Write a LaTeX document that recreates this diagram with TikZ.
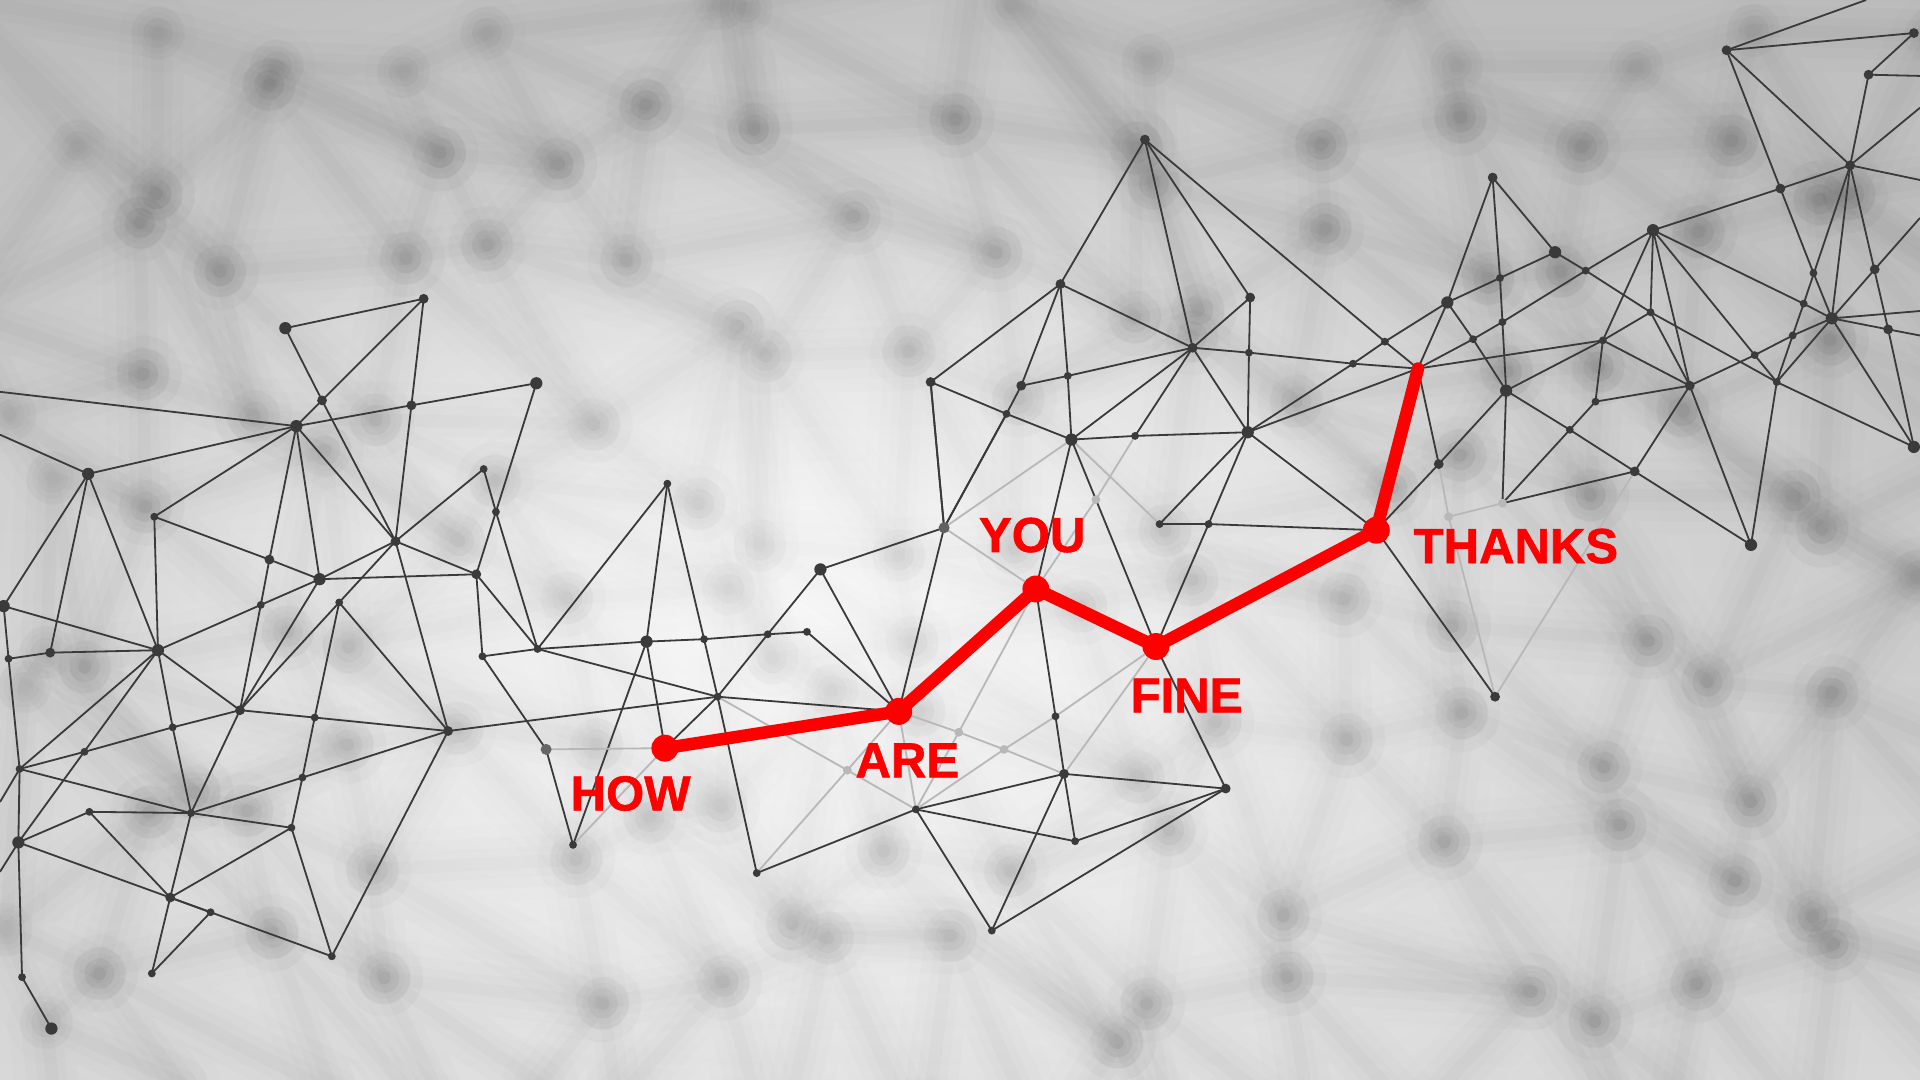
\documentclass[tikz,border=0pt]{standalone}
\usepackage{fontspec}
\setmainfont{Liberation Sans}
\newfontfamily\wordfont{Liberation Sans Bold}[FakeBold=1.2]
\usetikzlibrary{fadings}

\definecolor{redline}{RGB}{255,0,0}
\definecolor{meshgray}{RGB}{58,58,58}
\definecolor{bgedge}{RGB}{216,216,216}

\tikzfading[name=glow, inner color=transparent!0, outer color=transparent!100]
\tikzfading[name=topdark, top color=transparent!88, bottom color=transparent!100]

\begin{document}
\begin{tikzpicture}[x=0.01cm, y=-0.01cm,
    mesh/.style={draw=meshgray, line width=0.42pt},
    faint/.style={draw=black!28, line width=0.42pt},
    blur/.style={draw=black, line cap=round, line join=round, line width=#1},
    word/.style={text=redline, font=\fontsize{11.4}{12}\selectfont\wordfont, inner sep=0pt},
    route/.style={draw=redline, line width=2.9pt, line cap=round, line join=round}]

  \useasboundingbox (0,0) rectangle (1568,882);
  \clip (0,0) rectangle (1568,882);

  % background
  \fill[bgedge] (0,0) rectangle (1568,882);
  \fill[white, path fading=glow] (680,480) ellipse (880 and 580);
  \fill[black, path fading=topdark] (0,0) rectangle (1568,882);

  % blurred mesh behind
  \pgfmathsetseed{23}
  \foreach \i in {0,...,15}{
    \foreach \j in {0,...,9}{
      \pgfmathsetmacro\bx{\i*108-40+rnd*110}
      \pgfmathsetmacro\by{\j*100-40+rnd*100}
      \coordinate (b_\i_\j) at (\bx,\by);
    }
  }
  \foreach \i in {0,...,14}{
    \foreach \j in {0,...,8}{
      \pgfmathtruncatemacro\ii{\i+1}
      \pgfmathtruncatemacro\jj{\j+1}
      \foreach \w/\o in {18pt/.009, 12pt/.011, 7pt/.013, 3pt/.016}
        \draw[blur=\w, opacity=\o] (b_\i_\j) -- (b_\ii_\j) (b_\i_\j) -- (b_\i_\jj) (b_\i_\j) -- (b_\ii_\jj);
      \foreach \r in {22,17,12,8}
        \fill[black, opacity=.014] (b_\i_\j) circle (\r);
    }
  }
  \fill[white, opacity=.55, path fading=glow] (660,500) ellipse (640 and 400);

  % mesh points
  \foreach \n/\x/\y in {e_1/0/320, e_2/0/355, e_3/0/655, e_4/0/712,
      l_1/233/268, l_2/346/244, l_3/263/327, l_4/242/348, l_5/336/331, l_6/438/313,
      l_8/72/387, l_9/395/383, l_10/405/418, l_11/126/422, l_12/323/442, l_13/389/469,
      l_14/261/473, l_15/220/457, l_16/213/494, l_17/3/495, l_18/129/531, l_19/41/533,
      l_20/7/538, l_21/196/580, l_22/257/586, l_23/366/597, l_24/439/530, l_25/394/536,
      l_26/141/594, l_27/69/614, l_28/16/628, l_29/247/635, l_30/156/664, l_31/73/663,
      l_32/238/676, l_33/15/688, l_34/139/733, l_35/172/745, l_36/271/781, l_37/124/795,
      l_38/18/798, l_39/42/840, l_40/277/492,
      m_1/545/395, m_2/528/524, m_3/575/522, m_4/627/518, m_5/659/516, m_6/586/569,
      m_7/446/612, m_8/468/690, m_9/670/465, m_10/771/431, m_11/783/598, m_12/820/612,
      m_13/692/629, m_14/748/661, m_15/869/632, m_16/878/687, m_17/618/713, m_18/810/760,
      m_19/1001/644, m_20/895/408, m_21/862/585,
      u_1/935/114, u_2/866/232, u_3/1021/243, u_4/760/312, u_5/834/315, u_6/872/307,
      u_7/822/338, u_8/974/284, u_9/1020/288, u_10/1019/353, u_11/875/359, u_12/927/356,
      u_13/947/428, u_14/987/428, u_15/1105/297, u_16/1131/279,
      r_1/1219/145, r_2/1270/206, r_3/1182/247, r_4/1225/227, r_5/1227/263, r_6/1203/277,
      r_7/1230/319, r_8/1175/379, r_9/1183/422, r_10/1227/411, r_11/1295/221, r_12/1350/188,
      r_13/1309/278, r_14/1348/255, r_15/1303/328, r_16/1282/351, r_17/1380/315, r_18/1335/385,
      r_19/1430/445, r_20/1451/312, r_21/1221/569, r_22/1410/41, r_23/1526/61, r_24/1563/27,
      r_25/1454/154, r_26/1511/135, r_27/1496/260, r_28/1473/248, r_29/1531/220, r_30/1433/290,
      r_31/1563/365, r_34/1464/274, r_35/1481/223, r_36/1542/269,
      e_6/1524/0, e_7/1568/62, e_8/1568/88, e_9/1568/147, e_10/1568/178, e_11/1568/254, e_12/1568/274,
      p_0/543/611, p_1/734/581, p_2/846/481, p_3/944/528, p_4/1124/433, p_5/1158/301}
    \coordinate (\n) at (\x,\y);

  % connectors
  \foreach \a/\b in {e_1/l_4, e_2/l_8, e_3/l_28, e_4/l_33,
      l_1/l_2, l_1/l_3, l_2/l_3, l_3/l_4, l_2/l_5, l_5/l_12, l_4/l_5, l_5/l_6, l_8/l_4,
      l_8/l_17, l_8/l_19, l_8/l_18, l_4/l_11, l_4/l_15, l_15/l_16, l_4/l_14, l_4/l_12,
      l_3/l_12, l_6/l_10, l_10/l_13, l_9/l_10, l_9/l_12, l_11/l_15, l_15/l_14, l_11/l_18,
      l_14/l_12, l_14/l_13, l_12/l_13, l_12/l_40, l_40/l_21, l_40/l_22, l_40/l_23,
      l_14/l_16, l_16/l_18, l_16/l_21, l_14/l_21, l_17/l_18, l_17/l_20, l_20/l_19,
      l_19/l_18, l_20/l_28, l_18/l_21, l_18/l_26, l_18/l_28, l_18/l_33, l_28/l_27,
      l_27/l_26, l_26/l_21, l_21/l_22, l_22/l_23, l_21/l_30, l_26/l_30, l_28/l_30,
      l_31/l_30, l_30/l_32, l_30/l_29, l_29/l_23, l_22/l_29, l_29/l_32, l_31/l_34,
      l_33/l_31, l_33/l_35, l_35/l_36, l_28/l_33, l_33/l_38, l_32/l_34, l_32/l_36,
      l_30/l_34, l_34/l_35, l_34/l_37, l_37/l_35, l_36/l_23, l_38/l_39, l_10/l_24,
      l_13/l_24, l_13/l_25, l_12/l_23, l_24/l_25, l_23/m_6,
      l_24/m_2, m_2/m_3, m_3/m_4, m_4/m_5, m_1/l_24, m_1/m_2, m_1/m_3, m_3/m_6,
      m_6/m_17, m_2/m_8, m_2/p_0, l_25/m_7, m_7/m_8, l_24/m_6, m_6/p_1, m_6/p_0,
      m_9/m_4, m_4/m_6, m_5/p_1, m_9/p_1, m_9/m_10, m_10/p_1, m_10/u_4, m_10/u_7,
      m_14/m_15, m_14/m_16, m_14/m_18, m_17/m_14, m_15/m_19, m_15/m_18, m_16/m_19,
      m_18/m_19, p_3/m_19, p_2/m_21, m_21/m_15, m_15/m_16,
      u_1/u_2, u_1/u_8, u_1/u_3, u_1/u_16, u_2/u_4, u_2/u_5, u_5/u_7, u_7/m_10,
      u_2/u_6, u_6/u_11, u_2/u_8, u_5/u_6, u_6/u_8, u_4/u_7, u_7/u_11, u_4/m_10,
      u_8/u_3, u_8/u_9, u_9/u_15, u_15/p_5, u_3/u_9, u_9/u_10, u_8/u_11, u_8/u_12,
      u_11/u_12, u_12/u_10, u_8/u_10, u_10/u_15, u_10/p_5, u_15/u_16, u_16/r_3,
      u_16/p_5, u_13/u_14, u_14/p_4, u_13/u_10, u_14/u_10, u_14/p_3, u_10/p_4,
      u_11/p_3, u_11/p_2,
      p_5/r_3, p_5/r_6, r_6/r_5, r_5/r_11, p_5/r_13, p_5/r_8, r_3/r_1, r_1/r_4,
      r_4/r_5, r_5/r_7, r_7/r_10, r_1/r_2, r_3/r_4, r_4/r_2, r_3/r_6, r_6/r_7,
      r_7/r_13, r_13/r_14, r_7/r_16, r_7/r_8, r_16/r_10, p_4/r_8, p_4/r_21, r_2/r_11,
      r_22/r_24, r_22/e_6, r_24/r_23, r_23/e_7, r_22/r_26, r_22/r_25, r_23/r_26,
      r_26/e_8, r_26/e_9, r_25/r_26, r_12/r_25, r_25/r_35, r_35/r_27, r_26/r_28,
      r_28/r_34, r_34/r_20, r_26/r_27, r_26/r_36, r_36/r_31, r_29/e_10, r_29/r_27,
      r_27/r_20, r_27/e_11, r_27/r_36, r_36/e_12, r_27/r_31, r_20/r_19, r_20/r_31,
      r_12/r_14, r_11/r_12, r_11/r_14, r_14/r_20, r_12/r_13, r_13/r_15, r_12/r_30,
      r_30/r_20, r_17/r_30, r_30/r_34, r_34/r_27, r_12/r_17, r_14/r_17, r_13/r_17,
      r_15/r_17, r_15/r_16, r_16/r_18, r_17/r_18, r_18/r_19, r_17/r_19, r_18/r_10,
      r_12/r_28, r_28/r_27}
    \draw[mesh] (\a) -- (\b);
  \foreach \a/\b in {m_7/p_0, p_0/m_8, m_10/p_2, p_1/m_11, m_11/m_12, m_12/m_15,
      m_6/m_13, m_13/m_14, m_17/m_13, m_13/p_1, p_1/m_14, m_14/m_11, m_11/p_2,
      m_14/m_12, m_12/m_21, m_21/p_3, m_15/p_3, u_12/m_20, m_20/p_2, u_11/u_13,
      m_10/u_11, r_18/r_21, r_9/r_10, r_9/r_21, r_8/r_9}
    \draw[faint] (\a) -- (\b);

  % dots
  \foreach \n in {l_1, l_4, l_6, l_8, l_14, l_17, l_18, l_33, l_39, m_2, m_9,
      u_10, u_11, r_2, r_3, r_7, r_12, r_19, r_27, r_31}
    \fill[meshgray] (\n) circle (5);
  \foreach \n in {l_2, l_3, l_5, l_12, l_13, l_15, l_19, l_21, l_23, l_34, m_15, m_19,
      u_1, u_2, u_3, u_4, u_5, u_8, r_1, r_8, r_17, r_18, r_21, r_22, r_23, r_24,
      r_25, r_26, r_29, r_36}
    \fill[meshgray] (\n) circle (4);
  \foreach \n in {l_9, l_10, l_11, l_16, l_20, l_22, l_24, l_25, l_26, l_27, l_28,
      l_29, l_30, l_31, l_32, l_35, l_36, l_37, l_38, l_40, m_1, m_3, m_4, m_5, m_6,
      m_8, m_14, m_16, m_17, m_18, m_21, u_6, u_7, u_9, u_12, u_13, u_14, u_15, u_16,
      r_4, r_5, r_6, r_11, r_13, r_14, r_15, r_16, r_20, r_28, r_30, r_34, r_35}
    \fill[meshgray] (\n) circle (3.2);
  \fill[black!60] (m_7) circle (4.5);
  \fill[black!62] (m_10) circle (4.5);
  \foreach \n in {m_11, m_12, m_13, m_20, r_9, r_10}
    \fill[black!28] (\n) circle (3.6);

  % red route
  \draw[route] (p_0) -- (p_1) -- (p_2) -- (p_3) -- (p_4) -- (p_5);
  \foreach \n in {p_0, p_1, p_2, p_3, p_4}
    \fill[redline] (\n) circle (11);

  \node[word] (w_how) at (515,648) {HOW};
  \node[word] (w_are) at (741,621) {ARE};
  \node[word] (w_you) at (843,437) {YOU};
  \node[word] (w_fine) at (969,568) {FINE};
  \node[word] (w_thanks) at (1238,446) {THANKS};

\end{tikzpicture}
\end{document}
